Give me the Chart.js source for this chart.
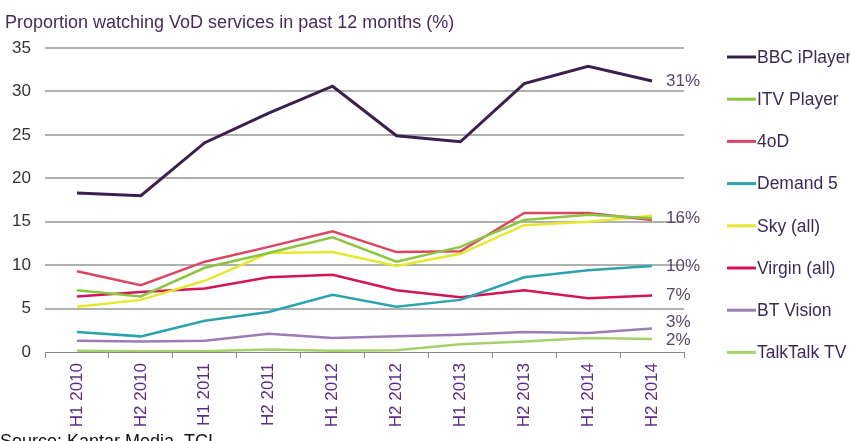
<!DOCTYPE html>
<html>
<head>
<meta charset="utf-8">
<script src="https://cdn.jsdelivr.net/npm/chart.js@4/dist/chart.umd.min.js"></script>
<style>
  body { margin: 0; background: #fff; }
  #wrap { width: 850px; height: 441px; position: relative; }
</style>
</head>
<body>
<div id="wrap"><canvas id="myChart"></canvas></div>
<script>
// half-year periods
const periods = ['H1 2010', 'H2 2010', 'H1 2011', 'H2 2011', 'H1 2012', 'H2 2012', 'H1 2013', 'H2 2013', 'H1 2014', 'H2 2014'];

// % watching each service
const bbcIplayer = [18.3, 18.0, 24.1, 27.5, 30.6, 24.9, 24.2, 30.9, 32.9, 31.2];
const itvPlayer  = [7.1, 6.4, 9.7, 11.4, 13.2, 10.4, 12.1, 15.2, 15.8, 15.4];
const fourOD     = [9.3, 7.7, 10.4, 12.1, 13.9, 11.5, 11.6, 16.0, 16.0, 15.2];
const demand5    = [2.3, 1.8, 3.6, 4.6, 6.6, 5.2, 6.0, 8.6, 9.4, 9.9];
const skyAll     = [5.2, 6.0, 8.2, 11.4, 11.5, 9.9, 11.3, 14.6, 15.0, 15.7];
const virginAll  = [6.4, 6.9, 7.3, 8.6, 8.9, 7.1, 6.3, 7.1, 6.2, 6.5];
const btVision   = [1.3, 1.2, 1.3, 2.1, 1.6, 1.8, 2.0, 2.3, 2.2, 2.7];
const talkTalkTv = [0.15, 0.1, 0.1, 0.3, 0.15, 0.2, 0.9, 1.2, 1.6, 1.5];

const yTicks = [0, 5, 10, 15, 20, 25, 30, 35];

// labels at the end of the lines, and the value they sit at
const endLabels = ['31%', '16%', '10%', '7%', '3%', '2%'];
const endLabelAt = [31.2, 15.4, 9.9, 6.5, 3.4, 1.4];

const series = [
    { name: 'BBC iPlayer', data: bbcIplayer, color: '#3b1f4e', width: 3 },
    { name: 'ITV Player', data: itvPlayer, color: '#8cc53f', width: 2.5 },
    { name: '4oD', data: fourOD, color: '#dc4560', width: 2.5 },
    { name: 'Demand 5', data: demand5, color: '#2ba3ae', width: 2.5 },
    { name: 'Sky (all)', data: skyAll, color: '#e6e830', width: 2.5 },
    { name: 'Virgin (all)', data: virginAll, color: '#d4145a', width: 2.5 },
    { name: 'BT Vision', data: btVision, color: '#9b7cb6', width: 2.5 },
    { name: 'TalkTalk TV', data: talkTalkTv, color: '#a5d16a', width: 2.5 },
];

const fontFam = '"Liberation Sans", Arial, sans-serif';
const ctx = document.getElementById('myChart');

// title, end labels, legend and source note
const extras = {
    id: 'extras',
    afterDraw(chart) {
        const c = chart.ctx;
        const area = chart.chartArea;
        const y = chart.scales.y;
        c.save();
        c.font = '18px ' + fontFam;
        c.fillStyle = '#4a2a5a';
        c.textBaseline = 'alphabetic';
        c.textAlign = 'left';
        c.fillText('Proportion watching VoD services in past 12 months (%)', 5, 28);

        c.font = '17px ' + fontFam;
        c.fillStyle = '#5a4668';
        c.textBaseline = 'middle';
        endLabels.forEach((t, i) => {
            c.fillText(t, area.right - 18, y.getPixelForValue(endLabelAt[i]));
        });

        c.font = '17.5px ' + fontFam;
        series.forEach((s, i) => {
            const ly = area.top + 9 + i * 42.2;
            c.strokeStyle = s.color;
            c.lineWidth = 3;
            c.beginPath();
            c.moveTo(727, ly);
            c.lineTo(756, ly);
            c.stroke();
            c.fillStyle = '#3c2a58';
            c.fillText(s.name, 757, ly + 1);
        });

        c.font = '18px ' + fontFam;
        c.fillStyle = '#111';
        c.textBaseline = 'top';
        c.fillText('Source: Kantar Media, TCI', 0, 433);
        c.restore();
    }
};

const chart = new Chart(ctx, {
    type: 'line',
    data: {
        labels: periods,
        datasets: series.map(s => ({
            label: s.name,
            data: s.data,
            borderColor: s.color,
            backgroundColor: s.color,
            borderWidth: s.width,
            pointRadius: 0,
            tension: 0,
            fill: false,
        }))
    },
    options: {
        responsive: true,
        maintainAspectRatio: false,
        animation: false,
        layout: { padding: { top: 48, right: 166, left: 0, bottom: 0 } },
        plugins: {
            legend: { display: false },
            tooltip: { enabled: false },
        },
        scales: {
            x: {
                offset: true,
                afterFit: (scale) => { scale.height = 89; },
                grid: {
                    offset: true,
                    drawOnChartArea: false,
                    drawTicks: true,
                    tickLength: 6,
                    color: '#888',
                },
                border: { display: true, color: '#888', width: 1 },
                ticks: {
                    minRotation: 90,
                    maxRotation: 90,
                    padding: 5,
                    color: '#5b2c83',
                    font: { family: fontFam, size: 17 },
                },
            },
            y: {
                min: 0,
                max: 35,
                afterFit: (scale) => { scale.width = 45; },
                afterBuildTicks: (scale) => { scale.ticks = yTicks.map(v => ({ value: v })); },
                grid: {
                    color: (c) => c.tick && c.tick.value === 0 ? 'rgba(0,0,0,0)' : '#b0b0b0',
                    lineWidth: 2,
                    drawTicks: false,
                },
                border: { display: false },
                ticks: {
                    padding: 14,
                    color: '#333',
                    font: { family: fontFam, size: 17 },
                },
            }
        }
    },
    plugins: [extras]
});
</script>
</body>
</html>
